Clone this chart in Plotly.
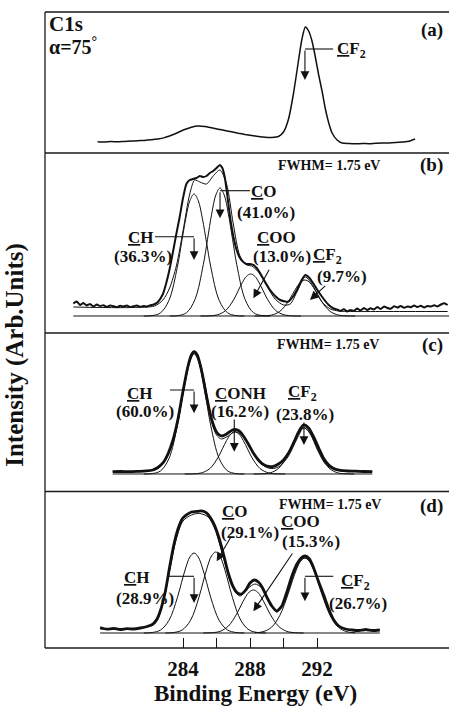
import plotly.graph_objects as go

# ---------------- data ----------------
TICK_E = [284, 286, 288, 290, 292]
TICK_TEXT = ["284", "", "288", "", "292"]

# panel (a): measured C1s spectrum (arb. units)
E_A = [278.9, 279.3, 279.7, 280.1, 280.5, 280.9, 281.3, 281.7, 282.1, 282.5, 282.9, 283.3,
       283.7, 284.1, 284.5, 284.9, 285.3, 285.7, 286.1, 286.5, 286.9, 287.3, 287.7, 288.1,
       288.5, 288.9, 289.3, 289.7, 290.0, 290.3, 290.6, 290.9, 291.1, 291.3, 291.5, 291.7,
       291.9, 292.1, 292.3, 292.5, 292.7, 292.9, 293.2, 293.5, 293.9, 294.3, 294.7, 295.1,
       295.5, 295.9, 296.3, 296.7, 297.1, 297.5, 297.85]
I_A = [11.3, 11.0, 11.4, 11.2, 11.6, 11.9, 12.3, 12.6, 13.2, 14.0, 15.4, 17.8,
       20.5, 23.5, 25.8, 27.0, 26.5, 25.2, 23.8, 22.5, 21.2, 19.8, 18.6, 17.6,
       16.6, 15.8, 15.6, 16.5, 21.0, 34.0, 60.0, 93.0, 114.0, 126.0, 122.0, 112.0,
       96.0, 78.0, 62.0, 44.0, 30.0, 20.0, 13.0, 10.0, 9.5, 9.2, 9.5, 9.3,
       9.8, 10.1, 10.0, 10.4, 11.0, 11.8, 14.0]

# shared energy offsets for the fitted component peaks
OFFS = [-3, -2.5, -2, -1.5, -1, -0.75, -0.5, -0.25, 0, 0.25, 0.5, 0.75, 1, 1.5, 2, 2.5, 3]

# panel (b)
E_B = [277.45, 277.65, 277.85, 278.05, 278.25, 278.45, 278.65, 278.85, 279.05, 279.25,
       279.45, 279.65, 279.85, 280.05, 280.25, 280.45, 280.65, 280.85, 281.05, 281.25,
       281.45, 281.65, 281.85, 282.05, 282.25, 282.5, 282.8, 283.0, 283.2, 283.4, 283.6,
       283.8, 284.0, 284.2, 284.4, 284.6, 284.8, 285.0, 285.2, 285.4, 285.6, 285.8, 286.0,
       286.2, 286.35, 286.5, 286.65, 286.8, 287.0, 287.2, 287.4, 287.6, 287.8, 288.0, 288.2,
       288.4, 288.6, 288.9, 289.2, 289.5, 289.8, 290.1, 290.3, 290.55, 290.8, 291.05, 291.3,
       291.55, 291.8, 292.1, 292.4, 292.7, 293.0, 293.2, 293.4, 293.6, 293.8, 294.0, 294.2,
       294.4, 294.6, 294.8, 295.0, 295.2, 295.4, 295.6, 295.8, 296.0, 296.2, 296.4, 296.6,
       296.8, 297.0, 297.2, 297.4, 297.6, 297.8, 298.0, 298.2, 298.4, 298.6, 298.8, 299.0,
       299.2, 299.4, 299.6, 299.8]
I_B = [12.5, 14.5, 11.0, 13.0, 10.5, 12.0, 9.5, 11.5, 10.0, 10.8,
       9.0, 10.5, 9.8, 8.8, 10.2, 9.5, 10.6, 8.9, 9.8, 10.4,
       9.2, 10.0, 9.6, 10.8, 11.5, 14.0, 22.0, 33.0, 47.0, 64.0, 82.0,
       99.0, 118.0, 132.0, 136.0, 137.0, 138.0, 140.0, 139.0, 140.0, 143.0, 145.0, 148.0,
       151.0, 148.0, 138.0, 120.0, 100.0, 80.0, 66.0, 58.0, 54.0, 52.0, 52.0, 51.0,
       48.0, 43.0, 34.0, 26.0, 20.0, 16.0, 14.5, 14.5, 19.0, 26.0, 35.0, 41.0,
       38.0, 32.0, 24.0, 17.0, 11.0, 7.5, 6.5, 5.0, 6.8, 4.5, 6.0, 5.2,
       7.5, 5.5, 8.0, 6.0, 7.8, 6.5, 9.0, 7.0, 9.5, 8.0, 7.2, 9.8,
       8.5, 10.0, 8.2, 9.5, 8.8, 10.5, 9.0, 10.2, 8.6, 10.0, 9.4, 10.8,
       9.5, 11.5, 12.8, 11.0]
FIT_E_B = [277.45, 279.0, 281.0, 282.3, 282.8, 283.2, 283.6, 284.0, 284.4, 284.7, 285.0,
           285.4, 285.8, 286.2, 286.6, 287.0, 287.4, 287.8, 288.1, 288.5, 289.0, 289.5,
           290.0, 290.4, 290.8, 291.3, 291.8, 292.3, 292.8, 293.3, 294.0, 296.0, 299.8]
FIT_I_B = [9.0, 8.5, 8.5, 10.0, 16.0, 28.0, 50.0, 85.0, 122.0, 136.0, 134.0,
           132.0, 140.0, 146.0, 132.0, 92.0, 60.0, 51.0, 50.0, 44.0, 30.0, 17.0,
           11.0, 12.0, 24.0, 39.0, 29.0, 14.0, 7.0, 5.0, 4.5, 4.5, 4.5]
BASE_E_B = [277.45, 299.88]
CEN_B_CH, CEN_B_CO, CEN_B_COO, CEN_B_CF2 = 284.66, 286.21, 288.04, 291.28
PK_B_CH = [0.0, 0.4, 3.2, 15.6, 48.9, 73.0, 97.1, 115.3, 122, 115.3, 97.1, 73.0, 48.9, 15.6, 3.2, 0.4, 0.0]
PK_B_CO = [0.0, 0.4, 3.3, 16.4, 51.3, 76.5, 101.9, 121.0, 128, 121.0, 101.9, 76.5, 51.3, 16.4, 3.3, 0.4, 0.0]
PK_B_COO = [0.0, 0.1, 1.1, 5.4, 16.8, 25.1, 33.4, 39.7, 42, 39.7, 33.4, 25.1, 16.8, 5.4, 1.1, 0.1, 0.0]
PK_B_CF2 = [0.0, 0.1, 0.9, 4.6, 14.4, 21.5, 28.7, 34.0, 36, 34.0, 28.7, 21.5, 14.4, 4.6, 0.9, 0.1, 0.0]

# panel (c)
E_C = [279.8, 280.3, 280.8, 281.3, 281.8, 282.2, 282.5, 282.8, 283.1, 283.4, 283.7, 284.0,
       284.3, 284.5, 284.66, 284.85, 285.1, 285.4, 285.7, 286.0, 286.3, 286.6, 286.9, 287.1,
       287.35, 287.6, 287.9, 288.2, 288.5, 288.8, 289.1, 289.4, 289.7, 290.0, 290.3, 290.6,
       290.9, 291.2, 291.5, 291.8, 292.1, 292.4, 292.7, 293.0, 293.4, 293.8, 294.3, 294.8, 295.3]
I_C = [2.3, 2.5, 2.3, 2.6, 3.0, 4.0, 6.5, 11.0, 20.0, 34.0, 55.0, 83.0,
       108.0, 119.0, 122.3, 119.0, 104.0, 78.0, 55.0, 42.0, 38.0, 40.0, 43.5, 44.7,
       43.0, 38.0, 30.0, 21.0, 14.0, 9.5, 7.5, 7.5, 10.0, 14.0, 21.0, 31.0,
       42.0, 49.0, 46.0, 37.0, 26.0, 15.5, 9.0, 5.5, 3.5, 3.0, 2.8, 2.5, 2.3]
FIT_E_C = [279.8, 281.5, 282.5, 283.0, 283.5, 284.0, 284.4, 284.66, 284.9, 285.3, 285.7, 286.0,
           286.3, 286.7, 287.1, 287.5, 288.0, 288.5, 289.0, 289.4, 289.8, 290.3, 290.8, 291.22,
           291.6, 292.0, 292.5, 293.0, 293.6, 295.3]
FIT_I_C = [2.3, 2.6, 5.5, 15.0, 38.0, 80.0, 112.0, 121.0, 117.0, 91.0, 53.0, 39.0,
           35.0, 38.0, 42.5, 39.0, 27.0, 13.0, 6.5, 5.5, 8.0, 18.0, 35.0, 46.5,
           40.0, 25.0, 10.0, 4.5, 2.8, 2.3]
BASE_E_C = [279.8, 295.3]
CEN_C_CH, CEN_C_CONH, CEN_C_CF2 = 284.66, 287.1, 291.22
PK_C_CH = [0.0, 0.4, 3.1, 15.4, 48.1, 71.8, 95.5, 113.4, 120, 113.4, 95.5, 71.8, 48.1, 15.4, 3.1, 0.4, 0.0]
PK_C_CONH = [0.0, 0.1, 1.1, 5.4, 16.8, 25.1, 33.4, 39.7, 42, 39.7, 33.4, 25.1, 16.8, 5.4, 1.1, 0.1, 0.0]
PK_C_CF2 = [0.0, 0.2, 1.2, 5.9, 18.4, 27.5, 36.6, 43.5, 46, 43.5, 36.6, 27.5, 18.4, 5.9, 1.2, 0.2, 0.0]

# panel (d)
E_D = [279.05, 279.45, 279.85, 280.25, 280.65, 281.05, 281.45, 281.85, 282.2, 282.45, 282.7,
       282.95, 283.2, 283.45, 283.7, 283.95, 284.2, 284.5, 284.8, 285.1, 285.4, 285.65, 285.9,
       286.15, 286.4, 286.7, 287.0, 287.25, 287.5, 287.75, 288.0, 288.25, 288.5, 288.75, 289.0,
       289.3, 289.6, 289.9, 290.2, 290.5, 290.8, 291.05, 291.3, 291.55, 291.8, 292.1, 292.4,
       292.7, 293.0, 293.3, 293.7, 294.1, 294.5, 294.9, 295.3, 295.75]
I_D = [5.5, 3.8, 4.6, 3.5, 4.4, 4.0, 5.0, 6.5, 9.0, 14.0, 25.0,
       42.0, 66.0, 88.0, 104.0, 114.0, 118.0, 121.0, 121.5, 122.0, 120.0, 115.0, 107.0,
       95.0, 80.0, 60.0, 46.0, 40.0, 39.0, 43.0, 50.0, 53.0, 51.0, 45.0, 36.0,
       27.0, 22.0, 27.0, 41.0, 57.0, 69.0, 75.0, 77.0, 74.0, 65.0, 51.0, 38.0,
       24.0, 13.0, 7.0, 4.0, 3.0, 2.5, 3.5, 2.5, 3.0]
FIT_E_D = [279.05, 281.0, 282.3, 282.8, 283.2, 283.6, 284.0, 284.5, 285.0, 285.5, 285.9, 286.4,
           286.9, 287.4, 287.9, 288.3, 288.7, 289.1, 289.6, 290.1, 290.6, 291.0, 291.3, 291.7,
           292.2, 292.7, 293.2, 293.8, 295.75]
FIT_I_D = [4.0, 4.0, 9.0, 30.0, 62.0, 94.0, 112.0, 118.0, 119.5, 116.0, 104.0, 76.0,
           48.0, 37.0, 45.0, 49.0, 45.0, 33.0, 21.0, 33.0, 58.0, 72.0, 75.0, 68.0,
           45.0, 22.0, 8.0, 3.5, 3.0]
BASE_E_D = [279.05, 295.75]
CEN_D_CH, CEN_D_CO, CEN_D_COO, CEN_D_CF2 = 284.66, 285.95, 288.2, 291.28
PK_D_CH = [0.0, 0.5, 3.0, 12.6, 35.2, 50.4, 65.1, 76.0, 80, 76.0, 65.1, 50.4, 35.2, 12.6, 3.0, 0.5, 0.0]
PK_D_CO = [0.0, 0.5, 3.0, 12.7, 35.6, 51.0, 65.9, 77.0, 81, 77.0, 65.9, 51.0, 35.6, 12.7, 3.0, 0.5, 0.0]
PK_D_COO = [0.0, 0.3, 1.6, 6.8, 18.9, 27.1, 35.0, 40.9, 43, 40.9, 35.0, 27.1, 18.9, 6.8, 1.6, 0.3, 0.0]
PK_D_CF2 = [0.2, 1.3, 5.7, 17.6, 39.3, 52.1, 63.8, 72.0, 75, 72.0, 63.8, 52.1, 39.3, 17.6, 5.7, 1.3, 0.2]

# ---------------- figure ----------------
FONT = "Liberation Serif, Times New Roman, serif"
INK = "#111111"
fig = go.Figure()


def add_line(x, y, yaxis, width, smoothing=0.8, shape="spline"):
    fig.add_trace(go.Scatter(x=x, y=y, xaxis="x", yaxis=yaxis, mode="lines",
                             line=dict(color=INK, width=width, shape=shape, smoothing=smoothing),
                             hoverinfo="skip", showlegend=False))


def add_peak(center, vals, yaxis):
    add_line([center + o for o in OFFS], vals, yaxis, 1.0, smoothing=1.0)


# (a)
add_line(E_A, I_A, "y", 1.5, smoothing=0.6)
# (b)
add_line(BASE_E_B, [0, 0], "y2", 1.0, shape="linear")
for c, v in [(CEN_B_CH, PK_B_CH), (CEN_B_CO, PK_B_CO), (CEN_B_COO, PK_B_COO), (CEN_B_CF2, PK_B_CF2)]:
    add_peak(c, v, "y2")
add_line(FIT_E_B, FIT_I_B, "y2", 1.0, smoothing=0.8)
add_line(E_B, I_B, "y2", 2.0, smoothing=0.5)
# (c)
add_line(BASE_E_C, [0, 0], "y3", 1.0, shape="linear")
for c, v in [(CEN_C_CH, PK_C_CH), (CEN_C_CONH, PK_C_CONH), (CEN_C_CF2, PK_C_CF2)]:
    add_peak(c, v, "y3")
add_line(FIT_E_C, FIT_I_C, "y3", 1.0, smoothing=0.8)
add_line(E_C, I_C, "y3", 2.8, smoothing=0.7)
# (d)
add_line(BASE_E_D, [0, 0], "y4", 1.0, shape="linear")
for c, v in [(CEN_D_CH, PK_D_CH), (CEN_D_CO, PK_D_CO), (CEN_D_COO, PK_D_COO), (CEN_D_CF2, PK_D_CF2)]:
    add_peak(c, v, "y4")
add_line(FIT_E_D, FIT_I_D, "y4", 1.0, smoothing=0.8)
add_line(E_D, I_D, "y4", 2.8, smoothing=0.6)

DOM_A, DOM_B, DOM_C, DOM_D = [0.7783, 1.0], [0.4953, 0.7783], [0.2461, 0.4953], [0.0, 0.2461]


def yax(dom, rng):
    return dict(domain=dom, range=rng, visible=False, fixedrange=True, anchor="x")


def txt(text, x, y, yref, size=17, xanchor="center"):
    return dict(text="<b>" + text + "</b>", x=x, y=y, xref="x", yref=yref, showarrow=False,
                font=dict(size=size, family=FONT, color=INK), xanchor=xanchor, yanchor="middle")


def arrow(x, y, ax, ay, yref):
    return dict(x=x, y=y, ax=ax, ay=ay, xref="x", yref=yref, axref="x", ayref=yref, text="",
                showarrow=True, arrowhead=2, arrowsize=1.6, arrowwidth=1.1, arrowcolor=INK)


def hline(x0, x1, y, yref):
    return dict(type="line", xref="x", yref=yref, x0=x0, x1=x1, y0=y, y1=y,
                line=dict(color=INK, width=1.1))


U_CF2 = "<u>C</u>F<sub>2</sub>"
ann = [
    # (a)
    txt("C1s", 275.88, 129.5, "y", 21, "left"),
    txt("α=75<sup>°</sup>", 275.88, 107, "y", 20, "left"),
    txt("(a)", 299.64, 123, "y", 19, "right"),
    txt(U_CF2, 293.1, 103, "y", 17, "left"),
    arrow(291.28, 73, 291.28, 104, "y"),
    # (b)
    txt("FWHM= 1.75 eV", 292.7, 151, "y2", 14),
    txt("(b)", 299.64, 151, "y2", 19, "right"),
    txt("<u>C</u>O", 288.84, 125, "y2"),
    txt("(41.0%)", 288.96, 103.5, "y2"),
    arrow(286.21, 97.7, 286.21, 125.3, "y2"),
    txt("<u>C</u>H", 281.49, 78.5, "y2"),
    txt("(36.3%)", 281.61, 59.5, "y2"),
    arrow(284.66, 56, 284.66, 79.3, "y2"),
    txt("<u>C</u>OO", 289.61, 78.5, "y2"),
    txt("(13.0%)", 289.91, 59.5, "y2"),
    arrow(288.2, 17.7, 289.19, 47.7, "y2"),
    txt(U_CF2, 292.63, 60, "y2"),
    txt("(9.7%)", 293.52, 39, "y2"),
    arrow(291.58, 16, 292.58, 31.5, "y2"),
    # (c)
    txt("FWHM= 1.75 eV", 292.65, 129, "y3", 14),
    txt("(c)", 299.64, 129, "y3", 19, "right"),
    txt("<u>C</u>H", 281.43, 80, "y3"),
    txt("(60.0%)", 281.73, 62.3, "y3"),
    arrow(284.66, 60.7, 284.66, 84, "y3"),
    txt("<u>C</u>ONH", 287.45, 80, "y3"),
    txt("(16.2%)", 287.4, 62.3, "y3"),
    arrow(287.06, 22.3, 287.06, 56, "y3"),
    txt(U_CF2, 291.13, 80.5, "y3"),
    txt("(23.8%)", 291.3, 59.5, "y3"),
    arrow(291.22, 29, 291.22, 53, "y3"),
    # (d)
    txt("FWHM= 1.75 eV", 292.8, 128, "y4", 14),
    txt("(d)", 299.64, 126.7, "y4", 19, "right"),
    txt("<u>C</u>O", 287.1, 121, "y4"),
    txt("(29.1%)", 288.0, 100.5, "y4"),
    arrow(286.01, 71.7, 286.91, 97.5, "y4"),
    txt("<u>C</u>OO", 290.99, 111, "y4"),
    txt("(15.3%)", 291.64, 91.5, "y4"),
    arrow(288.2, 21.7, 290.59, 81.0, "y4"),
    txt("<u>C</u>H", 281.28, 55, "y4"),
    txt("(28.9%)", 281.73, 34, "y4"),
    arrow(284.66, 30, 284.66, 56.7, "y4"),
    txt(U_CF2, 294.27, 50.5, "y4"),
    txt("(26.7%)", 294.45, 29.5, "y4"),
    arrow(291.28, 31.7, 291.28, 56.7, "y4"),
    # axis titles
    dict(text="<b>Binding Energy (eV)</b>", x=0.52, y=-0.0708, xref="paper", yref="paper",
         showarrow=False, xanchor="center", yanchor="middle",
         font=dict(size=23, family=FONT, color=INK)),
    dict(text="<b>Intensity (Arb.Units)</b>", x=-0.0743, y=0.461, xref="paper", yref="paper",
         showarrow=False, xanchor="center", yanchor="middle", textangle=-90,
         font=dict(size=25, family=FONT, color=INK)),
]

frame = dict(color="#1a1a1a", width=1.3)
shapes = [
    hline(291.28, 292.96, 104, "y"),
    hline(286.21, 288.0, 125.3, "y2"),
    hline(282.33, 284.66, 79.3, "y2"),
    hline(283.22, 284.66, 84, "y3"),
    hline(283.12, 284.66, 56.7, "y4"),
    hline(291.28, 292.97, 56.7, "y4"),
]
for yy in [1.0, DOM_A[0], DOM_B[0], DOM_C[0], 0.0]:
    shapes.append(dict(type="line", xref="paper", yref="paper", x0=0, x1=1, y0=yy, y1=yy, line=frame))
shapes.append(dict(type="line", xref="paper", yref="paper", x0=0, x1=0, y0=0, y1=1, line=frame))

fig.update_layout(
    width=449, height=711,
    margin=dict(l=45, r=0, t=12, b=63),
    paper_bgcolor="white", plot_bgcolor="white",
    font=dict(family=FONT, color=INK),
    xaxis=dict(range=[275.76, 299.88], anchor="y4", domain=[0, 1],
               tickvals=TICK_E, ticktext=["<b>" + t + "</b>" if t else "" for t in TICK_TEXT],
               ticks="inside", ticklen=10, tickwidth=1.2, tickcolor=INK,
               showline=False, showgrid=False, zeroline=False, fixedrange=True,
               tickfont=dict(size=21, family=FONT, color=INK), ticklabelstandoff=6),
    yaxis=yax(DOM_A, [0, 141]),
    yaxis2=yax(DOM_B, [-17, 163]),
    yaxis3=yax(DOM_C, [-17.5, 141]),
    yaxis4=yax(DOM_D, [-15, 141.5]),
    annotations=ann,
    shapes=shapes,
    showlegend=False,
)

fig.write_html("out.html")
